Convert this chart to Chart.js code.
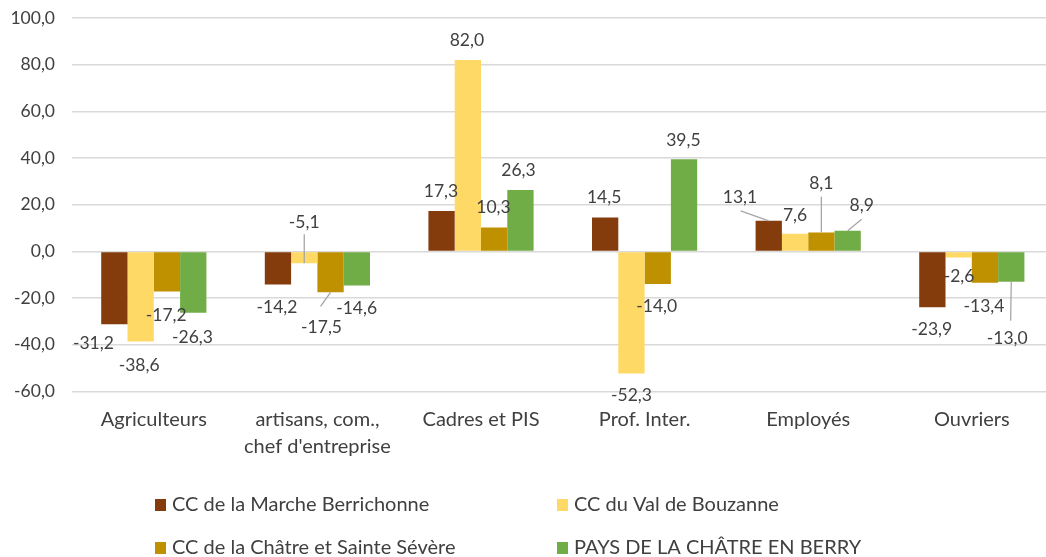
<!DOCTYPE html>
<html>
<head>
<meta charset="utf-8">
<script src="https://cdn.jsdelivr.net/npm/chart.js@4/dist/chart.umd.min.js"></script>
<style>
  html, body { margin: 0; padding: 0; background: #ffffff; overflow: hidden; }
  #wrap { width: 1046px; height: 557px; overflow: hidden; position: relative; }
  canvas { display: block; }
</style>
</head>
<body>
<div id="wrap"><canvas id="c" width="1060" height="557"></canvas></div>
<script>
// ---- Data ----
const categories = ['Agriculteurs', ['artisans, com.,', "chef d'entreprise"], 'Cadres et PIS', 'Prof. Inter.', 'Employés', 'Ouvriers'];
const seriesNames = ['CC de la Marche Berrichonne', 'CC du Val de Bouzanne', 'CC de la Châtre et Sainte Sévère', 'PAYS DE LA CHÂTRE EN BERRY'];
const marcheBerrichonne = [-31.2, -14.2, 17.3, 14.5, 13.1, -23.9];
const valDeBouzanne = [-38.6, -5.1, 82.0, -52.3, 7.6, -2.6];
const chatreSainteSevere = [-17.2, -17.5, 10.3, -14.0, 8.1, -13.4];
const paysChatre = [-26.3, -14.6, 26.3, 39.5, 8.9, -13.0];
const yMin = -60, yMax = 100, yStep = 20;

// ---- Styles ----
const seriesColors = ['#843C0C', '#FFD966', '#BF9000', '#70AD47'];
const textColor = '#404040';
const FONT = 'Lato, "Open Sans", sans-serif';

// data-label offsets (px) relative to each bar tip, per series
const labelOffsets = [
  [[-21, 19], [-1, 22.7], [-0.6, -19.4], [-1, -20], [-28.8, -23.6], [-0.6, 22]],
  [[-1.5, 23.4], [0, -40.7], [-1, -20], [0, 22], [0, -18.8], [0.4, 19]],
  [[-0.7, 23.4], [-9, 35], [-0.7, -20.2], [-1, 22], [0, -49.3], [-1, 23.2]],
  [[-0.8, 24.4], [-0.2, 22.7], [-2, -19.4], [-0.7, -19.3], [14, -25.7], [-4, 56.5]]
];
// leader lines: start offset relative to label center (null = no leader)
const leaderStarts = [
  [null, null, null, null, [0.7, 13.7], null],
  [null, [0, 11.5], null, null, null, null],
  [null, [-1, -21], null, null, [0, 13.4], null],
  [null, null, null, null, [0, 14.3], [3.4, -17.6]]
];

const fmt = v => v.toFixed(1).replace('.', ',');

const dataLabelPlugin = {
  id: 'dataLabels',
  afterDatasetsDraw(chart) {
    const ctx = chart.ctx;
    ctx.save();
    chart.data.datasets.forEach((ds, i) => {
      const meta = chart.getDatasetMeta(i);
      meta.data.forEach((el, j) => {
        const off = labelOffsets[i][j];
        const lx = el.x + off[0], ly = el.y + off[1];
        const ls = leaderStarts[i][j];
        if (ls) {
          ctx.beginPath();
          ctx.strokeStyle = '#A6A6A6';
          ctx.lineWidth = 1.3;
          ctx.moveTo(lx + ls[0], ly + ls[1]);
          ctx.lineTo(el.x, el.y);
          ctx.stroke();
        }
      });
    });
    ctx.font = '17.5px ' + FONT;
    ctx.fillStyle = textColor;
    ctx.textAlign = 'center';
    ctx.textBaseline = 'middle';
    chart.data.datasets.forEach((ds, i) => {
      const meta = chart.getDatasetMeta(i);
      meta.data.forEach((el, j) => {
        const off = labelOffsets[i][j];
        ctx.fillText(fmt(ds.data[j]), el.x + off[0], el.y + off[1]);
      });
    });
    ctx.restore();
  }
};

const legendPositions = [[155, 505], [557, 505], [155, 548], [557, 548]];
const customLegend = {
  id: 'customLegend',
  afterDraw(chart) {
    const ctx = chart.ctx;
    ctx.save();
    ctx.font = '20px ' + FONT;
    ctx.textBaseline = 'middle';
    ctx.textAlign = 'left';
    chart.data.datasets.forEach((ds, i) => {
      const [x, y] = legendPositions[i];
      ctx.fillStyle = ds.backgroundColor;
      ctx.fillRect(x, y - 6, 11, 12);
      ctx.fillStyle = textColor;
      ctx.fillText(ds.label, x + 17, y);
    });
    ctx.restore();
  }
};

const seriesValues = [marcheBerrichonne, valDeBouzanne, chatreSainteSevere, paysChatre];

new Chart(document.getElementById('c'), {
  type: 'bar',
  data: {
    labels: categories,
    datasets: seriesValues.map((vals, i) => ({
      label: seriesNames[i],
      data: vals,
      backgroundColor: seriesColors[i],
      borderWidth: 0,
      categoryPercentage: 0.643,
      barPercentage: 1.0
    }))
  },
  options: {
    responsive: false,
    devicePixelRatio: 1,
    animation: false,
    layout: { padding: { top: 18, right: 6.4, left: 0, bottom: 0 } },
    plugins: {
      legend: { display: false },
      tooltip: { enabled: false }
    },
    scales: {
      x: {
        grid: { display: false, drawTicks: false },
        border: { display: false },
        ticks: {
          color: textColor,
          font: { family: FONT, size: 20, lineHeight: 1.32 },
          padding: 15,
          maxRotation: 0,
          autoSkip: false
        },
        afterFit(scale) { scale.height = 165.5; }
      },
      y: {
        min: yMin,
        max: yMax,
        grid: { color: '#D9D9D9', lineWidth: 1.5, drawTicks: false },
        border: { display: false },
        ticks: {
          stepSize: yStep,
          color: textColor,
          font: { family: FONT, size: 17.5 },
          padding: 17,
          callback: v => fmt(v)
        },
        afterFit(scale) {
          scale.width = 72;
          scale.paddingTop = 0;
          scale.paddingBottom = 0;
        }
      }
    }
  },
  plugins: [dataLabelPlugin, customLegend]
});
</script>
</body>
</html>
